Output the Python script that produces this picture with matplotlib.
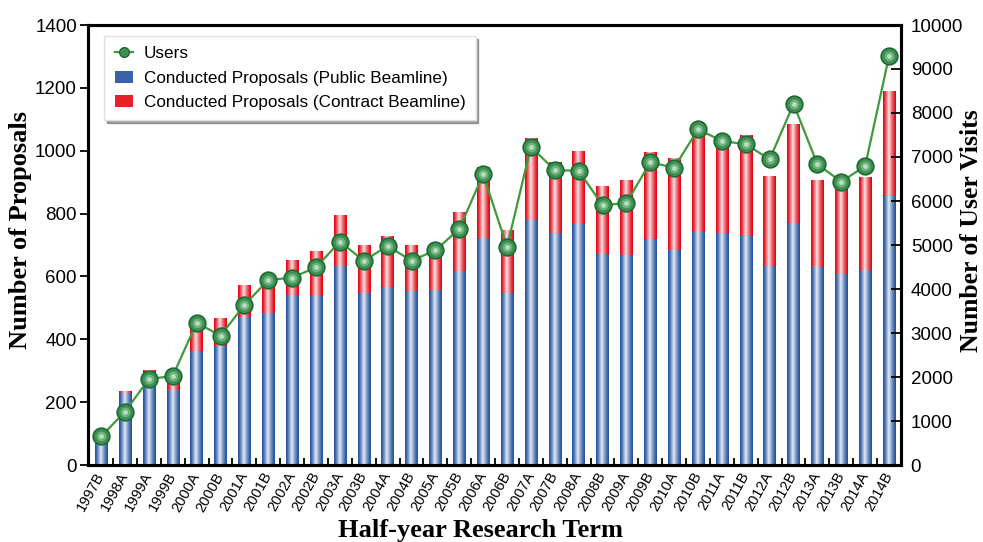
import numpy as np
import matplotlib
matplotlib.use("Agg")
import matplotlib.pyplot as plt
from matplotlib.lines import Line2D
from matplotlib.patches import Patch
import matplotlib.transforms as mtransforms

terms = ["1997B", "1998A", "1999A", "1999B", "2000A", "2000B", "2001A", "2001B",
         "2002A", "2002B", "2003A", "2003B", "2004A", "2004B", "2005A", "2005B",
         "2006A", "2006B", "2007A", "2007B", "2008A", "2008B", "2009A", "2009B",
         "2010A", "2010B", "2011A", "2011B", "2012A", "2012B", "2013A", "2013B",
         "2014A", "2014B"]
public = [90, 230, 286, 239, 364, 380, 471, 485, 541, 538, 634, 547, 566, 554, 558, 617,
          723, 547, 780, 738, 768, 671, 668, 719, 685, 742, 738, 730, 633, 770, 630, 609,
          621, 857]
total = [92, 235, 302, 302, 461, 468, 572, 598, 652, 681, 794, 700, 729, 700, 703, 805,
         948, 748, 1040, 963, 999, 888, 907, 996, 977, 1065, 1050, 1050, 920, 1085, 907, 897,
         916, 1190]
contract = [t - p for t, p in zip(total, public)]
users = [650, 1211, 1955, 2023, 3234, 2939, 3636, 4205, 4258, 4492, 5076, 4643, 4977, 4643,
         4880, 5364, 6607, 4955, 7234, 6698, 6689, 5902, 5955, 6880, 6757, 7630, 7364, 7289,
         6948, 8205, 6834, 6439, 6795, 9295]

SANS = ["Liberation Sans", "DejaVu Sans"]
SERIF = ["Liberation Serif", "DejaVu Serif"]
plt.rcParams["font.family"] = SANS

fig = plt.figure(figsize=(9.83, 5.42), dpi=100)
ax = fig.add_axes([88 / 983, 1 - 465 / 542, (901 - 88) / 983, (465 - 25) / 542])
ax2 = ax.twinx()

x = np.arange(len(terms))
bw = 0.52
bars_pub = ax.bar(x, public, bw, color="#2c58a3", linewidth=0, zorder=2)
bars_con = ax.bar(x, contract, bw, bottom=public, color="#e30613", linewidth=0, zorder=2)


def grad(edge, mid, n=64, peak=0.45, power=1.3):
    t = np.linspace(0, 1, n)
    w = np.where(t < peak, t / peak, (1 - t) / (1 - peak)) ** power
    e = np.array(matplotlib.colors.to_rgb(edge))
    m = np.array(matplotlib.colors.to_rgb(mid))
    return (e[None, :] * (1 - w[:, None]) + m[None, :] * w[:, None])[None, :, :]


img_blue = grad("#1f4f9e", "#e8edf6")
img_red = grad("#e3000f", "#fde6e6")
for bars, img in ((bars_pub, img_blue), (bars_con, img_red)):
    for p in bars:
        x0, y0, w, h = p.get_x(), p.get_y(), p.get_width(), p.get_height()
        if h <= 0:
            continue
        im = ax.imshow(img, extent=[x0, x0 + w, y0, y0 + h], aspect="auto",
                       zorder=2.5, interpolation="bilinear")
        im.set_clip_path(p)

ax.set_xlim(-0.55, len(terms) - 0.5)
ax.set_ylim(0, 1400)
ax.set_yticks(np.arange(0, 1401, 200))
ax2.set_ylim(0, 10000)
ax2.set_yticks(np.arange(0, 10001, 1000))

# users line
ax2.plot(x, users, color="#3f9a3c", lw=1.6, zorder=3)
ax2.plot(x, users, ls="none", marker="o", ms=12, mfc="#3f8f52", mec="#1d6a34",
         mew=1.2, zorder=4)
ax2.plot(x, users, ls="none", marker="o", ms=7, mfc="#7fbf8e", mec="none",
         alpha=0.75, zorder=5)
ax2.plot(x, users, ls="none", marker="o", ms=3.5, mfc="#c6e6cc", mec="none",
         alpha=0.85, zorder=6)

# ticks
ax.set_xticks(x)
lbl_off = mtransforms.ScaledTranslation(15 / 100, 0, fig.dpi_scale_trans)
ax.set_xticklabels(terms, rotation=61, ha="right", va="center",
                   rotation_mode="anchor", fontsize=10.5)
for t in ax.get_xticklabels():
    t.set_transform(t.get_transform() + lbl_off)
ax.tick_params(axis="x", which="major", length=0, pad=6)
ax.set_xticks(np.arange(-0.5, len(terms), 1), minor=True)
ax.tick_params(axis="x", which="minor", direction="in", length=5, width=1.3, color="black")
ax.tick_params(axis="y", direction="out", length=6, width=1.3, labelsize=13.5, pad=2)
ax2.tick_params(axis="y", direction="in", length=7, width=1.3, labelsize=13.5, pad=7)
ax2.tick_params(axis="x", length=0)

for a in (ax, ax2):
    for s in a.spines.values():
        s.set_linewidth(2.2)
        s.set_color("black")

fig.text(21 / 983, 1 - 230 / 542, "Number of Proposals", rotation=90, ha="center",
         va="center", family=SERIF, fontweight="bold", fontsize=19)
fig.text(971 / 983, 1 - 231 / 542, "Number of User Visits", rotation=90, ha="center",
         va="center", family=SERIF, fontweight="bold", fontsize=18.5)
fig.text(480 / 983, 1 - 530 / 542, "Half-year Research Term", ha="center", va="center",
         family=SERIF, fontweight="bold", fontsize=19)

handles = [
    Line2D([], [], color="#3f9a3c", lw=1.6, marker="o", ms=7, mfc="#3f8f52", mec="#1d6a34"),
    Patch(facecolor="#3a62ab", edgecolor="none"),
    Patch(facecolor="#e8202a", edgecolor="none"),
]
labels = ["Users", "Conducted Proposals (Public Beamline)",
          "Conducted Proposals (Contract Beamline)"]
leg = ax2.legend(handles, labels, loc="upper left", bbox_to_anchor=(0.02, 0.975),
                 borderaxespad=0, fontsize=12.3, frameon=True, fancybox=False, shadow=True,
                 edgecolor="#e0e0e0", framealpha=1, handlelength=1.1, handleheight=0.7,
                 handletextpad=0.6, labelspacing=0.55, borderpad=0.6)
leg.set_zorder(10)

fig.savefig("out.png", dpi=100)
